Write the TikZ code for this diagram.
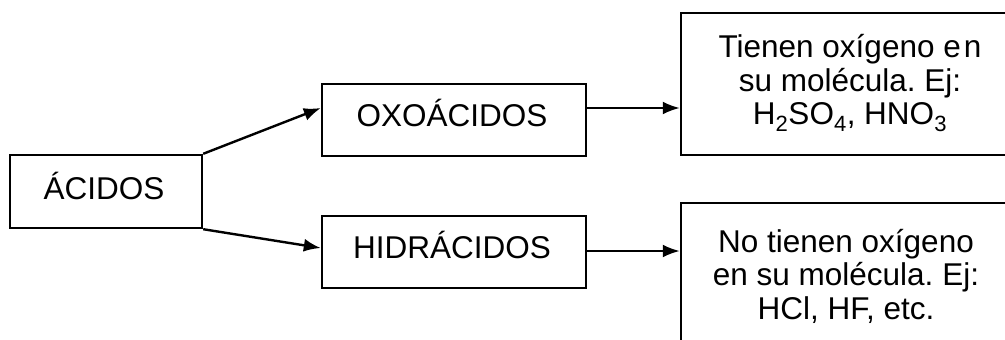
\documentclass[tikz,border=0pt]{standalone}
\usepackage{fontspec}
\setmainfont{Liberation Sans}
\usetikzlibrary{arrows.meta}
\frenchspacing
\begin{document}
\begin{tikzpicture}[x=1pt,y=-1pt,
  box/.style={draw=black,line width=2.4pt,inner sep=0pt,minimum width=#1},
  lbl/.style={font=\fontsize{31.5}{33.5}\selectfont,inner sep=0pt,align=center},
  conn/.style={line width=2.4pt,-{Latex[length=17pt,width=13pt]}}]
\useasboundingbox (0,0) rectangle (1005,340);
\clip (0,0) rectangle (1005,340);
% boxes
\node[box=192pt,minimum height=73pt] (acidos) at (106,191.5) {};
\node[box=264pt,minimum height=72pt] (oxo) at (454,120) {};
\node[box=264pt,minimum height=72pt] (hidr) at (454,252) {};
\node[box=334pt,minimum height=142pt] (oxotxt) at (848,84) {};
\node[box=334pt,minimum height=146pt] (hidrtxt) at (848,276) {};
% labels
\node[lbl] (lacidos) at (104,185.5) {ÁCIDOS};
\node[lbl] (loxo) at (452,112.5) {OXOÁCIDOS};
\node[lbl] (lhidr) at (452,244.5) {HIDRÁCIDOS};
\node[lbl] (loxotxt) at (850,83) {Tienen oxígeno e\hspace{3pt}n\\su molécula. Ej:\\H\textsubscript{2}SO\textsubscript{4}, HNO\textsubscript{3}};
\node[lbl] (lhidrtxt) at (846,276) {No tienen oxígeno\\en su molécula. Ej:\\HCl, HF, etc.};
% connectors
\draw[conn] (acidos.north east) -- ([yshift=12pt]oxo.west);
\draw[conn] (acidos.south east) -- ([yshift=4pt]hidr.west);
\draw[conn] ([yshift=12pt]oxo.east) -- ([yshift=12pt]oxo.east -| oxotxt.west);
\draw[conn] ([yshift=1pt]hidr.east) -- ([yshift=1pt]hidr.east -| hidrtxt.west);
\end{tikzpicture}
\end{document}
